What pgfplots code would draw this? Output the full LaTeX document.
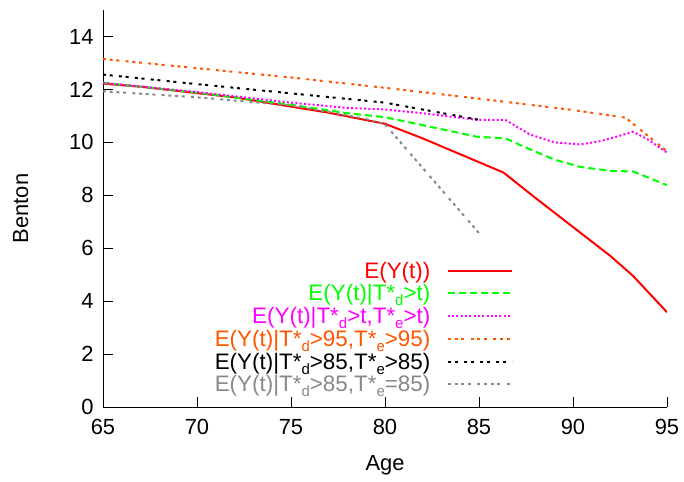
\documentclass[border=0pt]{standalone}
\usepackage{fontspec}
\setmainfont{Liberation Sans}
\usepackage{pgfplots}
\pgfplotsset{compat=1.18}
\definecolor{myorange}{RGB}{255,85,0}
\definecolor{mygray}{RGB}{136,136,136}
\definecolor{mymagenta}{RGB}{255,0,255}
\definecolor{mygreen}{RGB}{0,255,0}
\newcommand\sub[1]{\raisebox{-5bp}{\fontsize{15}{15}\selectfont #1}}
\begin{document}
\begin{tikzpicture}
\begin{axis}[
  scale only axis, width=564bp, height=397bp,
  xmin=65, xmax=95, ymin=0, ymax=15,
  axis x line=bottom, axis y line=left,
  axis line style={-, line width=0.9bp},
  xtick={65,70,...,95}, ytick={0,2,...,14},
  tick align=inside, major tick length=10bp,
  tick style={line width=0.9bp, black},
  /pgf/number format/assume math mode=true,
  tick label style={font=\fontsize{22}{22}\selectfont},
  xticklabel style={yshift=-9bp},
  yticklabel style={xshift=-6bp},
  xlabel={Age}, ylabel={Benton},
  label style={font=\fontsize{22}{22}\selectfont},
  xlabel style={yshift=-14bp},
  ylabel style={yshift=34bp},
  legend plot pos=right,
  legend cell align=right,
  legend image code/.code={\path (0bp,0bp); \draw[#1] (15bp,0bp) -- (79bp,0bp);},
  legend style={at={(0.727,0.37)}, anchor=north east, draw=none, fill=none,
    font=\fontsize{22.5}{22.5}\selectfont, row sep=2bp, inner sep=0pt,
    nodes={inner sep=1.5bp}},
]
\addplot[red, line width=2bp] coordinates {
(65,12.22) (67,12.10) (70,11.86) (72,11.70) (75,11.35) (77,11.12) (80,10.70)
(82,10.15) (84,9.55) (86.3,8.86) (88,7.9) (90,6.8) (92,5.7) (93.2,4.95) (95,3.58)};
\addlegendentry[text=red]{E(Y(t))}
\addplot[mygreen, line width=2bp, dash pattern=on 7bp off 4bp] coordinates {
(65,12.25) (70,11.88) (75,11.42) (78,11.1) (80,10.95) (82,10.65) (84.9,10.21)
(86.4,10.15) (87.5,9.8) (89,9.35) (90.4,9.07) (92,8.92) (93.2,8.90) (95,8.38)};
\addlegendentry[text=mygreen]{E(Y(t)|T*\sub{d}>t)}
\addplot[mymagenta, line width=2bp, dash pattern=on 2bp off 2.3bp] coordinates {
(65,12.25) (70,11.9) (75,11.5) (78,11.3) (80,11.24) (82,11.1) (84.9,10.85)
(86.4,10.85) (87.7,10.3) (89,10.0) (90.4,9.92) (91.5,10.05) (92.1,10.17)
(93.2,10.4) (94,10.1) (95,9.61)};
\addlegendentry[text=mymagenta]{E(Y(t)|T*\sub{d}>t,T*\sub{e}>t)}
\addplot[myorange, line width=2bp, dash pattern=on 3bp off 3.7bp on 3bp off 3.7bp on 3bp off 6.3bp] coordinates {
(65,13.15) (70,12.8) (75,12.45) (80,12.06) (85,11.65) (90,11.22) (92.8,10.93) (95,9.66)};
\addlegendentry[text=myorange]{E(Y(t)|T*\sub{d}>95,T*\sub{e}>95)}
\addplot[black, line width=2bp, dash pattern=on 3bp off 3.7bp on 3bp off 6.3bp] coordinates {
(65,12.56) (70,12.2) (75,11.85) (80,11.5) (85,10.85)};
\addlegendentry[text=black]{E(Y(t)|T*\sub{d}>85,T*\sub{e}>85)}
\addplot[mygray, line width=2bp, dash pattern=on 3bp off 3.7bp on 3bp off 3.7bp on 3bp off 3.7bp on 3bp off 6.3bp] coordinates {
(65,11.93) (70,11.7) (75,11.4) (77,11.15) (79,10.88) (80,10.68) (85,6.57)};
\addlegendentry[text=mygray]{E(Y(t)|T*\sub{d}>85,T*\sub{e}=85)}
\end{axis}
\path[use as bounding box] ([xshift=-103bp,yshift=-75bp]current axis.south west) rectangle ([xshift=17bp,yshift=10bp]current axis.north east);
\end{tikzpicture}
\end{document}
